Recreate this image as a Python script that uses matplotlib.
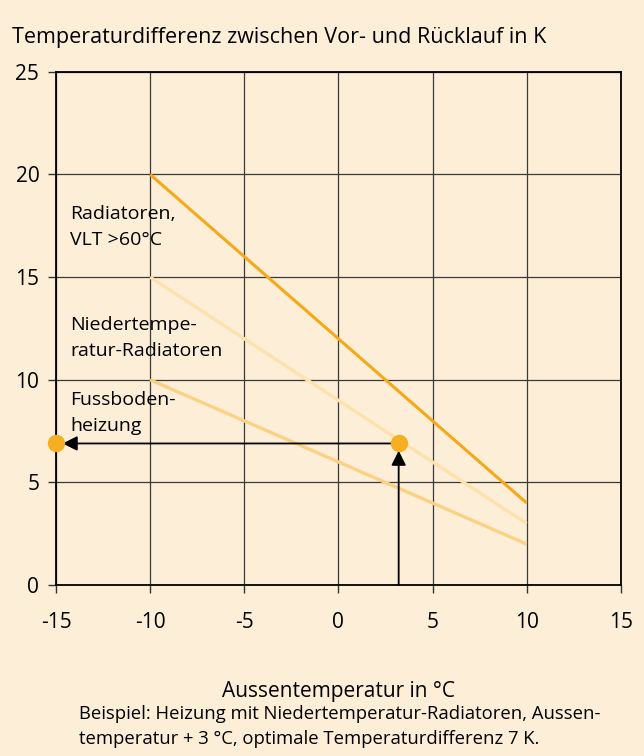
import matplotlib.pyplot as plt

# Data
outside_temp = [-10, 10]
radiatoren = [20, 4]
niedertemp = [15, 3]
fussboden = [10, 2]
example_x = 3.2
example_y = 6.9

x_ticks = [-15, -10, -5, 0, 5, 10, 15]
y_ticks = [0, 5, 10, 15, 20, 25]

BG = '#fdeed8'
plt.rcParams['font.family'] = ['Open Sans', 'DejaVu Sans']
plt.rcParams['font.size'] = 14.5

fig = plt.figure(figsize=(6.44, 7.56), dpi=100, facecolor=BG)
ax = fig.add_axes([0.087, 0.226, 0.877, 0.679], facecolor=BG)

ax.set_xlim(-15, 15)
ax.set_ylim(0, 25)
ax.set_xticks(x_ticks)
ax.set_yticks(y_ticks)
ax.set_xticklabels([str(t) for t in x_ticks])
ax.grid(True, color='#3a3a3a', linewidth=0.9)
ax.set_axisbelow(True)
for s in ax.spines.values():
    s.set_color('black')
    s.set_linewidth(1.3)
ax.tick_params(direction='out', length=6, width=1, color='#333333',
               labelsize=15)
ax.tick_params(axis='x', pad=13)
ax.tick_params(axis='y', pad=6)

# curves
ax.plot(outside_temp, niedertemp, color='#fde2ad', lw=2.4, solid_capstyle='butt')
ax.plot(outside_temp, fussboden, color='#fbd283', lw=2.4, solid_capstyle='butt')
ax.plot(outside_temp, radiatoren, color='#f5a818', lw=2.2, solid_capstyle='butt')

# example arrows
ax.annotate('', xy=(example_x, example_y - 0.35), xytext=(example_x, 0),
            arrowprops=dict(arrowstyle='-|>', color='black', lw=1.3,
                            mutation_scale=22, shrinkA=0, shrinkB=0))
ax.annotate('', xy=(-15 + 0.35, example_y), xytext=(example_x, example_y),
            arrowprops=dict(arrowstyle='-|>', color='black', lw=1.3,
                            mutation_scale=22, shrinkA=0, shrinkB=0))
ax.plot([example_x, -15], [example_y, example_y], 'o', color='#f5af23',
        ms=11.5, clip_on=False, zorder=5)

# curve labels
ax.text(-14.25, 18.5, 'Radiatoren,\nVLT >60°C', va='top', ha='left',
        fontsize=14, linespacing=1.55)
ax.text(-14.25, 13.1, 'Niedertempe-\nratur-Radiatoren', va='top', ha='left',
        fontsize=14, linespacing=1.55)
ax.text(-14.25, 9.45, 'Fussboden-\nheizung', va='top', ha='left',
        fontsize=14, linespacing=1.55)

fig.text(0.019, 0.951, 'Temperaturdifferenz zwischen Vor- und Rücklauf in K',
         fontsize=15.5, ha='left', va='center')
fig.text(0.525, 0.085, 'Aussentemperatur in °C', fontsize=15,
         ha='center', va='center')
fig.text(0.123, 0.039,
         'Beispiel: Heizung mit Niedertemperatur-Radiatoren, Aussen-\n'
         'temperatur + 3 °C, optimale Temperaturdifferenz 7 K.',
         fontsize=13.3, ha='left', va='center', linespacing=1.45)

fig.savefig('out.png', dpi=100, facecolor=BG)
